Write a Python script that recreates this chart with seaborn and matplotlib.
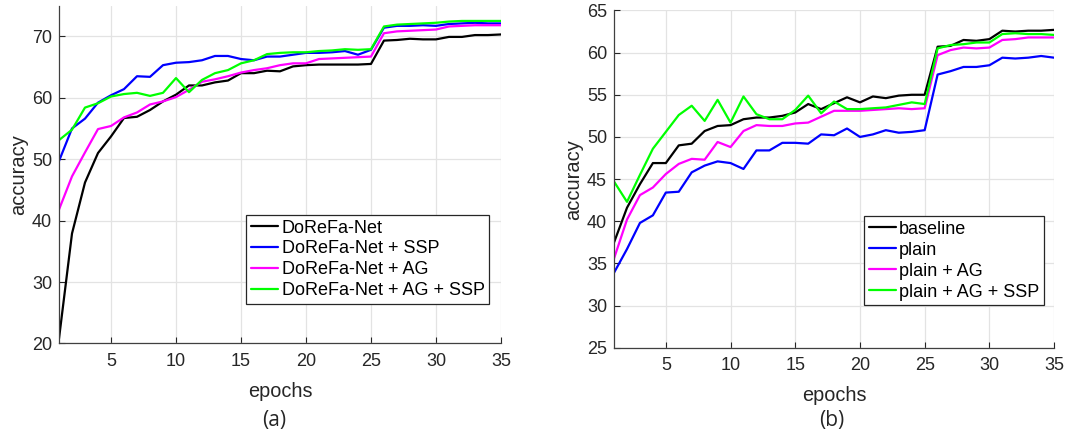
import pandas as pd
import matplotlib
matplotlib.use("Agg")
import matplotlib.pyplot as plt
import seaborn as sns

# epochs shared by both panels
epochs = list(range(1, 36))

# panel (a): DoReFa-Net variants
dorefa = [20.8, 37.9, 46.2, 51.0, 53.7, 56.7, 56.9, 58.0, 59.4, 60.5, 62.0, 62.0,
          62.5, 62.8, 64.0, 64.0, 64.4, 64.3, 65.1, 65.3, 65.4, 65.4, 65.4, 65.4,
          65.5, 69.3, 69.4, 69.6, 69.5, 69.5, 69.9, 69.9, 70.2, 70.2, 70.3]
dorefa_ssp = [49.7, 55.0, 56.6, 59.2, 60.4, 61.4, 63.5, 63.4, 65.3, 65.7, 65.8, 66.1,
              66.8, 66.8, 66.3, 66.1, 66.7, 66.7, 67.0, 67.3, 67.3, 67.4, 67.6, 67.0,
              67.8, 71.4, 71.7, 71.7, 71.8, 71.7, 72.0, 72.1, 72.2, 72.1, 72.1]
dorefa_ag = [41.8, 47.2, 51.1, 54.9, 55.4, 56.8, 57.6, 58.9, 59.4, 60.1, 61.3, 62.6,
             63.0, 63.5, 64.1, 64.5, 64.8, 65.3, 65.6, 65.6, 66.3, 66.4, 66.5, 66.6,
             66.7, 70.5, 70.8, 70.9, 71.0, 71.1, 71.6, 71.7, 71.8, 71.8, 71.8]
dorefa_ag_ssp = [53.1, 54.8, 58.4, 59.1, 60.2, 60.6, 60.8, 60.3, 60.8, 63.2, 60.9, 62.9,
                 64.0, 64.5, 65.6, 66.1, 67.1, 67.3, 67.4, 67.4, 67.6, 67.7, 67.9, 67.8,
                 67.9, 71.6, 71.9, 72.0, 72.1, 72.2, 72.4, 72.5, 72.5, 72.5, 72.5]
labels_a = ["DoReFa-Net", "DoReFa-Net + SSP", "DoReFa-Net + AG", "DoReFa-Net + AG + SSP"]

# panel (b): plain network variants
baseline = [37.5, 41.6, 44.4, 46.9, 46.9, 49.0, 49.2, 50.7, 51.3, 51.4, 52.1, 52.3,
            52.3, 52.5, 52.9, 53.9, 53.3, 54.0, 54.7, 54.1, 54.8, 54.6, 54.9, 55.0,
            55.0, 60.7, 60.8, 61.5, 61.4, 61.6, 62.6, 62.5, 62.6, 62.6, 62.7]
plain = [33.9, 36.7, 39.8, 40.7, 43.4, 43.5, 45.8, 46.6, 47.1, 46.9, 46.2, 48.4,
         48.4, 49.3, 49.3, 49.2, 50.3, 50.2, 51.0, 50.0, 50.3, 50.8, 50.5, 50.6,
         50.8, 57.4, 57.8, 58.3, 58.3, 58.5, 59.4, 59.3, 59.4, 59.6, 59.4]
plain_ag = [35.6, 40.2, 43.1, 44.0, 45.6, 46.8, 47.4, 47.3, 49.4, 48.8, 50.7, 51.4,
            51.3, 51.3, 51.6, 51.7, 52.4, 53.1, 53.1, 53.1, 53.2, 53.3, 53.4, 53.3,
            53.4, 59.7, 60.3, 60.6, 60.5, 60.6, 61.5, 61.6, 61.8, 61.8, 61.8]
plain_ag_ssp = [44.7, 42.3, 45.5, 48.6, 50.6, 52.6, 53.7, 51.9, 54.4, 51.7, 54.8, 52.7,
                52.1, 52.1, 53.2, 54.9, 52.8, 54.2, 53.3, 53.3, 53.4, 53.5, 53.8, 54.1,
                53.9, 60.5, 60.9, 61.0, 61.2, 61.2, 62.2, 62.3, 62.2, 62.2, 62.1]
labels_b = ["baseline", "plain", "plain + AG", "plain + AG + SSP"]

colors = ["#000000", "#0000FF", "#FF00FF", "#00FF00"]


def long_form(series, labels):
    frames = []
    for vals, lab in zip(series, labels):
        frames.append(pd.DataFrame({"epochs": epochs, "accuracy": vals, "method": lab}))
    return pd.concat(frames, ignore_index=True)


df_a = long_form([dorefa, dorefa_ssp, dorefa_ag, dorefa_ag_ssp], labels_a)
df_b = long_form([baseline, plain, plain_ag, plain_ag_ssp], labels_b)

sns.set_style("whitegrid")
plt.rcParams["font.family"] = ["Liberation Sans", "DejaVu Sans"]

fig = plt.figure(figsize=(10.67, 4.36), dpi=100)
ax_a = fig.add_axes([0.0553, 0.2122, 0.4142, 0.775])
ax_b = fig.add_axes([0.5755, 0.2025, 0.4124, 0.7735])

text_col = "#262626"


def style_axis(ax, df, labels, ylim, yticks, legend_anchor):
    sns.lineplot(data=df, x="epochs", y="accuracy", hue="method", hue_order=labels,
                 palette=colors, linewidth=1.6, ax=ax, legend=True)
    ax.set_xlim(1, 35)
    ax.set_ylim(*ylim)
    ax.set_xticks([5, 10, 15, 20, 25, 30, 35])
    ax.set_yticks(yticks)
    ax.grid(True, color="#e3e3e3", linewidth=0.9)
    for side in ["top", "right"]:
        ax.spines[side].set_visible(False)
    for side in ["left", "bottom"]:
        ax.spines[side].set_color("#404040")
        ax.spines[side].set_linewidth(0.9)
    ax.tick_params(direction="in", length=4, width=0.8, colors=text_col,
                   labelsize=13, left=True, bottom=True)
    ax.tick_params(axis="x", pad=7)
    ax.tick_params(axis="y", pad=5)
    ax.set_xlabel("epochs", fontsize=14.3, color=text_col, labelpad=8.5)
    ax.set_ylabel("accuracy", fontsize=14.5, color=text_col, labelpad=3)
    leg = ax.legend(loc="lower right", bbox_to_anchor=legend_anchor, fontsize=13,
                    frameon=True, fancybox=False, framealpha=1, edgecolor="#262626",
                    handlelength=1.5, handletextpad=0.2, labelspacing=0.22,
                    borderpad=0.25, borderaxespad=0)
    leg.get_frame().set_linewidth(0.9)
    for t in leg.get_texts():
        t.set_color("#000000")
    for h in leg.get_lines():
        h.set_linewidth(1.6)


style_axis(ax_a, df_a, labels_a, (20, 75), [20, 30, 40, 50, 60, 70], (0.973, 0.117))
style_axis(ax_b, df_b, labels_b, (25, 65), [25, 30, 35, 40, 45, 50, 55, 60, 65], (0.977, 0.126))

fig.text(274 / 1067, 1 - 420 / 436, "(a)", ha="center", va="center", fontsize=15,
         family=["Open Sans", "DejaVu Sans"])
fig.text(832 / 1067, 1 - 420 / 436, "(b)", ha="center", va="center", fontsize=15,
         family=["Open Sans", "DejaVu Sans"])

fig.savefig("out.png", dpi=100)
